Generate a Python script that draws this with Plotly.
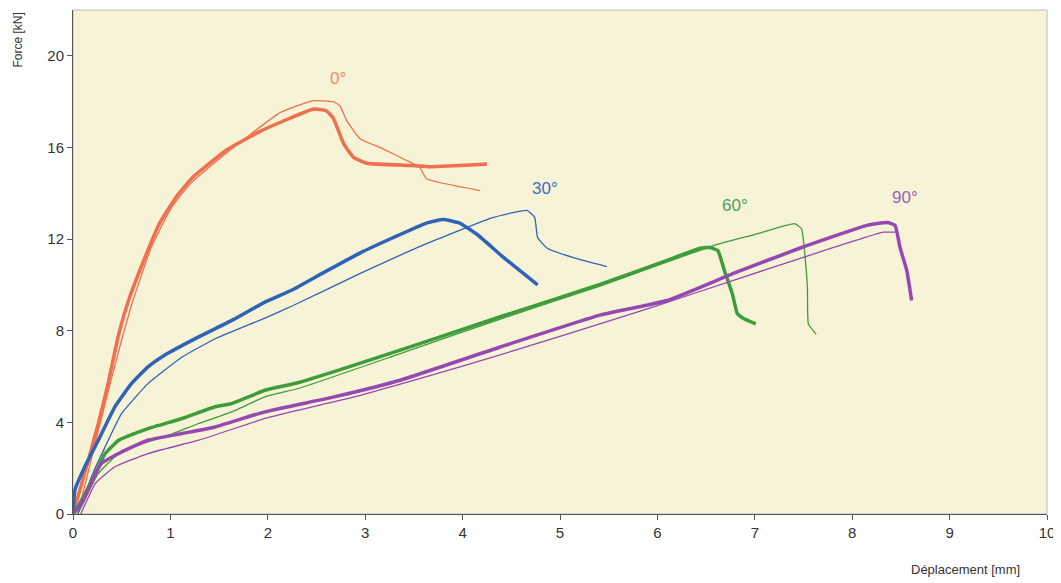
import plotly.graph_objs as go

# 0 deg
x0_thick = [0, 0.12, 0.26, 0.36, 0.47, 0.57, 0.72, 0.89, 1.07, 1.23, 1.58, 1.92, 2.13, 2.47, 2.6, 2.67, 2.78, 2.88, 3.02, 3.49, 3.67, 4.25]
y0_thick = [0, 1.78, 3.95, 5.69, 7.87, 9.32, 11.0, 12.7, 13.9, 14.7, 15.9, 16.7, 17.1, 17.68, 17.6, 17.3, 16.15, 15.57, 15.31, 15.21, 15.16, 15.28]
x0_thin = [0.05, 0.2, 0.4, 0.6, 0.8, 1.0, 1.2, 1.5, 1.8, 2.13, 2.47, 2.67, 2.74, 2.81, 2.95, 3.15, 3.43, 3.56, 3.63, 4.18]
y0_thin = [0, 2.6, 6.0, 9.1, 11.6, 13.3, 14.4, 15.5, 16.5, 17.53, 18.04, 18.0, 17.82, 17.17, 16.37, 16.0, 15.42, 15.13, 14.63, 14.12]

# 30 deg
x30_thick = [0, 0.02, 0.12, 0.26, 0.43, 0.6, 0.77, 0.94, 1.29, 1.63, 1.97, 2.26, 2.6, 2.95, 3.29, 3.63, 3.8, 3.97, 4.15, 4.42, 4.77]
y30_thick = [0, 1.05, 2.05, 3.22, 4.68, 5.69, 6.42, 6.93, 7.73, 8.45, 9.25, 9.8, 10.6, 11.4, 12.07, 12.7, 12.85, 12.7, 12.2, 11.2, 10.0]
x30_thin = [0.05, 0.19, 0.33, 0.5, 0.77, 1.12, 1.46, 1.97, 2.26, 2.95, 3.63, 4.31, 4.66, 4.74, 4.77, 4.87, 5.13, 5.48]
y30_thin = [0, 1.63, 2.93, 4.39, 5.69, 6.85, 7.65, 8.55, 9.1, 10.5, 11.8, 12.94, 13.25, 12.95, 12.07, 11.6, 11.2, 10.8]

# 60 deg
x60_thick = [0, 0.05, 0.23, 0.33, 0.47, 0.77, 1.12, 1.46, 1.63, 1.97, 2.33, 3.36, 4.38, 5.41, 6.1, 6.44, 6.54, 6.62, 6.69, 6.77, 6.82, 6.88, 7.01]
y60_thick = [0, 0.32, 1.77, 2.64, 3.22, 3.73, 4.17, 4.68, 4.82, 5.4, 5.75, 7.15, 8.6, 10.02, 11.07, 11.6, 11.63, 11.5, 10.6, 9.6, 8.75, 8.55, 8.3]
x60_thin = [0.05, 0.26, 0.43, 0.6, 0.94, 1.29, 1.63, 1.97, 2.33, 3.36, 4.38, 5.41, 6.1, 6.6, 7.0, 7.41, 7.48, 7.51, 7.54, 7.55, 7.63]
y60_thin = [0, 1.77, 2.5, 2.93, 3.37, 3.95, 4.46, 5.11, 5.5, 7.0, 8.5, 9.95, 11.0, 11.75, 12.2, 12.67, 12.45, 11.5, 9.9, 8.3, 7.85]

# 90 deg
x90_thick = [0, 0.09, 0.29, 0.5, 0.77, 1.12, 1.46, 1.97, 2.67, 3.36, 4.38, 5.41, 6.1, 6.78, 7.46, 8.15, 8.36, 8.44, 8.49, 8.56, 8.61]
y90_thick = [0, 0.47, 2.2, 2.71, 3.22, 3.51, 3.8, 4.46, 5.1, 5.84, 7.28, 8.68, 9.32, 10.5, 11.6, 12.6, 12.72, 12.6, 11.65, 10.63, 9.32]
x90_thin = [0.08, 0.23, 0.43, 0.77, 1.29, 1.97, 2.33, 2.95, 4.0, 5.0, 6.0, 6.78, 7.46, 8.32, 8.44]
y90_thin = [0, 1.34, 2.06, 2.64, 3.22, 4.17, 4.55, 5.18, 6.45, 7.75, 9.1, 10.2, 11.15, 12.3, 12.3]

labels = ["0°", "30°", "60°", "90°"]
label_x = [2.72, 4.85, 6.8, 8.54]
label_y = [19.0, 14.2, 13.45, 13.8]

colors = ["#F0704E", "#2E63B8", "#3E9C3A", "#9448B0"]
label_colors = ["#F08A68", "#3F6CC0", "#4FA060", "#A060B8"]

fig = go.Figure()
series = [
    (x0_thick, y0_thick, x0_thin, y0_thin),
    (x30_thick, y30_thick, x30_thin, y30_thin),
    (x60_thick, y60_thick, x60_thin, y60_thin),
    (x90_thick, y90_thick, x90_thin, y90_thin),
]
for (xt, yt, xn, yn), c in zip(series, colors):
    fig.add_trace(go.Scatter(x=xn, y=yn, mode="lines", line=dict(color=c, width=1.3, shape="spline", smoothing=0.4), showlegend=False))
    fig.add_trace(go.Scatter(x=xt, y=yt, mode="lines", line=dict(color=c, width=3.5, shape="spline", smoothing=0.4), showlegend=False))

for t, lx, ly, lc in zip(labels, label_x, label_y, label_colors):
    fig.add_annotation(x=lx, y=ly, text=t, showarrow=False, font=dict(color=lc, size=17, family="Liberation Sans"))

# page body has an 8px margin, so the figure is sized and padded to land on the window
fig.add_annotation(xref="paper", yref="paper", x=-0.0565, y=1.0, text="Force [kN]", textangle=-90,
                   showarrow=False, xanchor="center", yanchor="top", font=dict(size=12, color="#333", family="Liberation Sans"))
fig.add_annotation(xref="paper", yref="paper", x=0.974, y=-0.111, text="Déplacement [mm]",
                   showarrow=False, xanchor="right", yanchor="middle", font=dict(size=13, color="#333", family="Liberation Sans"))

fig.add_shape(type="rect", xref="paper", yref="paper", x0=0, y0=0, x1=1, y1=1,
              line=dict(color="#B8B8C4", width=1), layer="below")

fig.update_xaxes(range=[0, 10], dtick=1, showgrid=False, zeroline=False, showline=True, linecolor="#555",
                 ticks="outside", ticklen=5, tickcolor="#555", tickfont=dict(size=15, color="#333", family="Liberation Sans"))
fig.update_yaxes(range=[0, 22], tickvals=[0, 4, 8, 12, 16, 20], showgrid=False, zeroline=False, showline=True,
                 linecolor="#555", ticks="outside", ticklen=5, tickcolor="#555",
                 tickfont=dict(size=15, color="#333", family="Liberation Sans"))

fig.update_layout(width=1053, height=575, margin=dict(l=65, r=14, t=2, b=69),
                  plot_bgcolor="#F6F3D6", paper_bgcolor="white", showlegend=False)

fig.write_html("out.html")
